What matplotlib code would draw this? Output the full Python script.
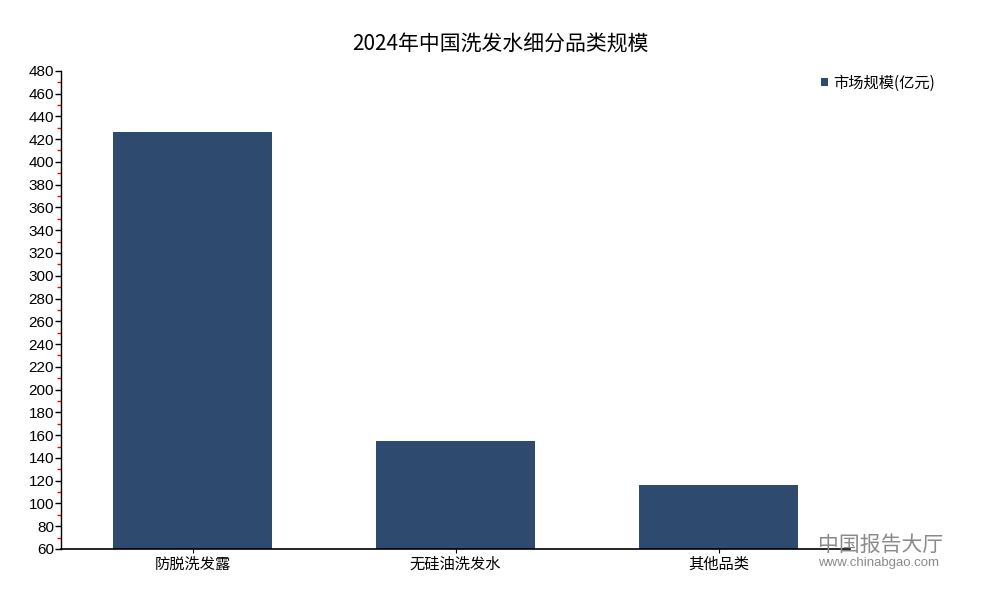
import matplotlib.pyplot as plt
from matplotlib.ticker import MultipleLocator

plt.rcParams['font.family'] = ['Noto Sans CJK SC', 'DejaVu Sans']

categories = ['防脱洗发露', '无硅油洗发水', '其他品类']
values = [426, 155, 116]
series_name = '市场规模(亿元)'
title = '2024年中国洗发水细分品类规模'

fig = plt.figure(figsize=(10, 6), dpi=100)
ax = fig.add_axes([0.061, 0.085, 0.789, 0.797])

bars = ax.bar(categories, values, width=0.605, color='#2e4a6e', label=series_name)

ax.set_ylim(60, 480)
ax.set_xlim(-0.5, 2.5)
ax.yaxis.set_major_locator(MultipleLocator(20))
ax.yaxis.set_minor_locator(MultipleLocator(10))
ax.tick_params(axis='y', which='major', length=4, width=1, color='black',
               labelsize=11, pad=1)
ax.tick_params(axis='y', which='minor', length=3, width=1, color='red')
ax.tick_params(axis='x', length=3, labelsize=11, pad=2)
for lab in ax.get_yticklabels():
    lab.set_family(['Liberation Sans', 'DejaVu Sans'])

for s in ['top', 'right']:
    ax.spines[s].set_visible(False)
ax.spines['left'].set_linewidth(1)
ax.spines['bottom'].set_linewidth(1.2)

fig.text(0.5, 0.925, title, ha='center', va='center', fontsize=15)

ax.legend(loc='upper left', bbox_to_anchor=(0.955, 1.005), frameon=False,
          fontsize=11, handlelength=0.5, handleheight=0.5, handletextpad=0.3,
          borderaxespad=0)

# watermark
fig.text(0.818, 0.092, '中国报告大厅', fontsize=15, color='#8a8a8a',
         ha='left', va='center')
fig.text(0.818, 0.062, 'www.chinabgao.com', fontsize=9.5, color='#8a8a8a',
         ha='left', va='center', family=['Liberation Sans', 'DejaVu Sans'])

fig.savefig('out.png', dpi=100)
